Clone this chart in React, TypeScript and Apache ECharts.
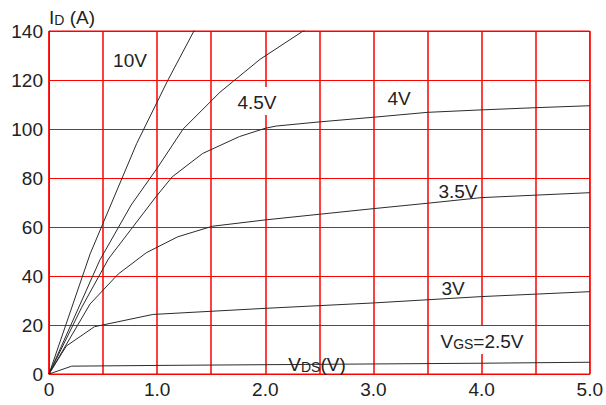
import React, { useEffect, useRef } from "react";
import * as echarts from "echarts";

// Drain current vs drain-source voltage, one curve per gate voltage
const vgsLabels = ["10V", "4.5V", "4V", "3.5V", "3V", "2.5V"];

const curve10V: [number, number][] = [
  [0, 0], [0.38, 49], [0.81, 94], [1.1, 120], [1.34, 140], [1.45, 149],
];
const curve4_5V: [number, number][] = [
  [0, 0], [0.47, 46.5], [0.76, 69], [1.0, 84], [1.24, 100], [1.58, 115],
  [1.95, 128.4], [2.35, 140], [2.6, 147],
];
const curve4V: [number, number][] = [
  [0, 0], [0.3, 27], [0.55, 47], [0.99, 72.4], [1.14, 80.5], [1.42, 90],
  [1.76, 96.9], [2.0, 100.3], [2.1, 101.2], [2.5, 102.9], [3.0, 104.8],
  [3.5, 106.8], [4.0, 107.8], [4.5, 108.7], [5.0, 109.5],
];
const curve3_5V: [number, number][] = [
  [0, 0], [0.38, 28.6], [0.64, 40.8], [0.9, 49.5], [1.19, 56], [1.51, 60.3],
  [2.0, 62.9], [2.5, 65.2], [3.0, 67.5], [3.5, 69.7], [4.0, 72], [5.0, 74],
];
const curve3V: [number, number][] = [
  [0, 0], [0.16, 11.4], [0.42, 19.3], [0.96, 24.3], [2.0, 26.8],
  [3.0, 29], [4.0, 31.6], [5.0, 33.6],
];
const curve2_5V: [number, number][] = [
  [0, 0], [0.21, 3.2], [1.0, 3.5], [2.0, 3.8], [3.0, 4.1], [4.0, 4.4], [5.0, 4.8],
];

const curves = [curve10V, curve4_5V, curve4V, curve3_5V, curve3V, curve2_5V];

const FONT = "'Liberation Sans', Arial, sans-serif";
const TEXT = "#222";
const RED = "#ff0000";

const rich = {
  n: { fontSize: 19, fontFamily: FONT, color: TEXT, verticalAlign: "bottom" as const, lineHeight: 22 },
  s: { fontSize: 14, fontFamily: FONT, color: TEXT, verticalAlign: "bottom" as const, lineHeight: 21 },
};

function label(text: string, x: number, y: number, bg: boolean) {
  return {
    type: "text",
    x,
    y,
    z: 10,
    style: {
      text,
      fill: TEXT,
      font: `19px ${FONT}`,
      align: "center",
      verticalAlign: "middle",
      backgroundColor: bg ? "#fff" : undefined,
      padding: bg ? [3, 1, 3, 1] : 0,
      rich,
    },
  };
}

export default function App() {
  const ref = useRef<HTMLDivElement>(null);

  useEffect(() => {
    if (!ref.current) return;
    const chart = echarts.init(ref.current, null, { renderer: "svg" });
    chart.setOption({
      animation: false,
      backgroundColor: "#fff",
      grid: {
        left: 49, right: 15, top: 31, bottom: 31,
        show: true, borderColor: RED, borderWidth: 1,
      },
      xAxis: {
        type: "value",
        min: 0,
        max: 5,
        interval: 0.5,
        axisLine: { show: true, lineStyle: { color: RED } },
        axisTick: { show: false },
        splitLine: { show: true, lineStyle: { color: RED, width: 1.5 } },
        axisLabel: {
          color: TEXT,
          fontSize: 19,
          fontFamily: FONT,
          margin: 6,
          formatter: (v: number) =>
            v === 0 ? "0" : Math.abs(v % 1) < 1e-9 ? v.toFixed(1) : "",
        },
      },
      yAxis: {
        type: "value",
        min: 0,
        max: 140,
        interval: 20,
        name: "{n|I}{s|D}{n| (A)}",
        nameLocation: "end",
        nameGap: 4,
        nameTextStyle: { align: "left", rich },
        axisLine: { show: true, lineStyle: { color: RED } },
        axisTick: { show: false },
        splitLine: { show: true, lineStyle: { color: RED, width: 1 } },
        axisLabel: { color: TEXT, fontSize: 19, fontFamily: FONT, margin: 6 },
      },
      series: curves.map((data, i) => ({
        type: "line",
        name: vgsLabels[i],
        data,
        symbol: "none",
        clip: true,
        z: 3,
        lineStyle: { color: "#2b2b2b", width: 1 },
      })),
      graphic: [
        label("{n|10V}", 130, 59, false),
        label("{n|4.5V}", 257, 101, true),
        label("{n|4V}", 399, 97, false),
        label("{n|3.5V}", 458, 190, false),
        label("{n|3V}", 453, 287, false),
        label("{n|V}{s|GS}{n|=2.5V}", 482, 340, true),
        label("{n|V}{s|DS}{n|(V)}", 317, 363, false),
      ],
    });
    return () => chart.dispose();
  }, []);

  return (
    <div
      ref={ref}
      style={{ position: "fixed", left: 0, top: 0, width: 606, height: 405 }}
    />
  );
}
